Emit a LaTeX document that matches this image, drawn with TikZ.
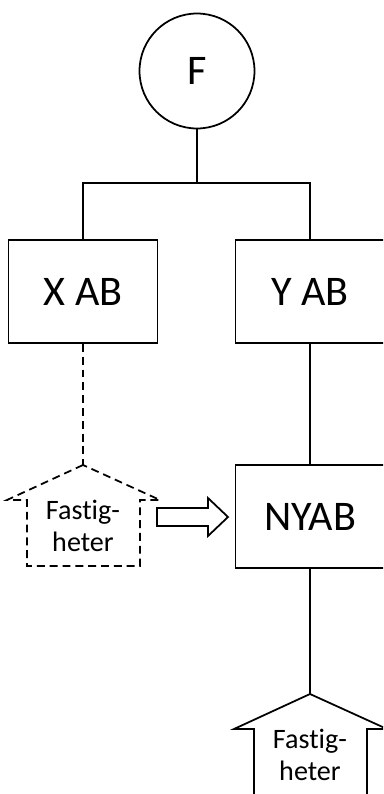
\documentclass[tikz,border=0pt]{standalone}
\usepackage{fontspec}
\setmainfont{Carlito}[Ligatures={NoCommon}]
\tikzset{
  company/.style={draw, minimum width=2.98cm, minimum height=2.06cm,
    font=\fontsize{24}{28}\selectfont},
  owner/.style={draw, circle, minimum size=2.3cm,
    font=\fontsize{24}{28}\selectfont},
  estate/.style={align=center, font=\fontsize{16}{18.5}\selectfont},
  broken/.style={dash pattern=on 4.5pt off 2.8pt},
  house/.pic={
    \coordinate (-apex) at (0,0);
    \draw[pic actions] (0,0) -- (-76,35) -- (-56,35) -- (-56,101)
      -- (57,101) -- (57,35) -- (77,35) -- cycle;
  }
}
\begin{document}
\begin{tikzpicture}[x=0.02cm, y=-0.02cm, line width=1pt]
  \useasboundingbox (0,0) rectangle (383,794);
  \clip (0,0) rectangle (383,794);
  \node[owner] (F) at (197,71) {F};
  \node[company] (X) at (83,291.5) {X AB};
  \node[company] (Y) at (310,291.5) {Y AB};
  \node[company] (N) at (310,516.5) {NYAB};
  \coordinate (split) at (197,183);
  % properties
  \pic[broken] (h1) at (83,465) {house};
  \node[estate] (fast1) at (83,526) {Fastig-\\heter};
  \pic (h2) at (310,694) {house};
  \node[estate] (fast2) at (310,755) {Fastig-\\heter};
  % transfer arrow
  \draw (157,508) -- (208,508) -- (208,498) -- (228,517) -- (208,536)
    -- (208,526) -- (157,526) -- cycle;
  \begin{scope}[-]
    \draw (F.south) -- (split);
    \draw (X.north) |- (split) -| (Y.north);
    \draw[broken] (X.south) -- (h1-apex);
    \draw (Y.south) -- (N.north);
    \draw (N.south) -- (h2-apex);
  \end{scope}
\end{tikzpicture}
\end{document}
